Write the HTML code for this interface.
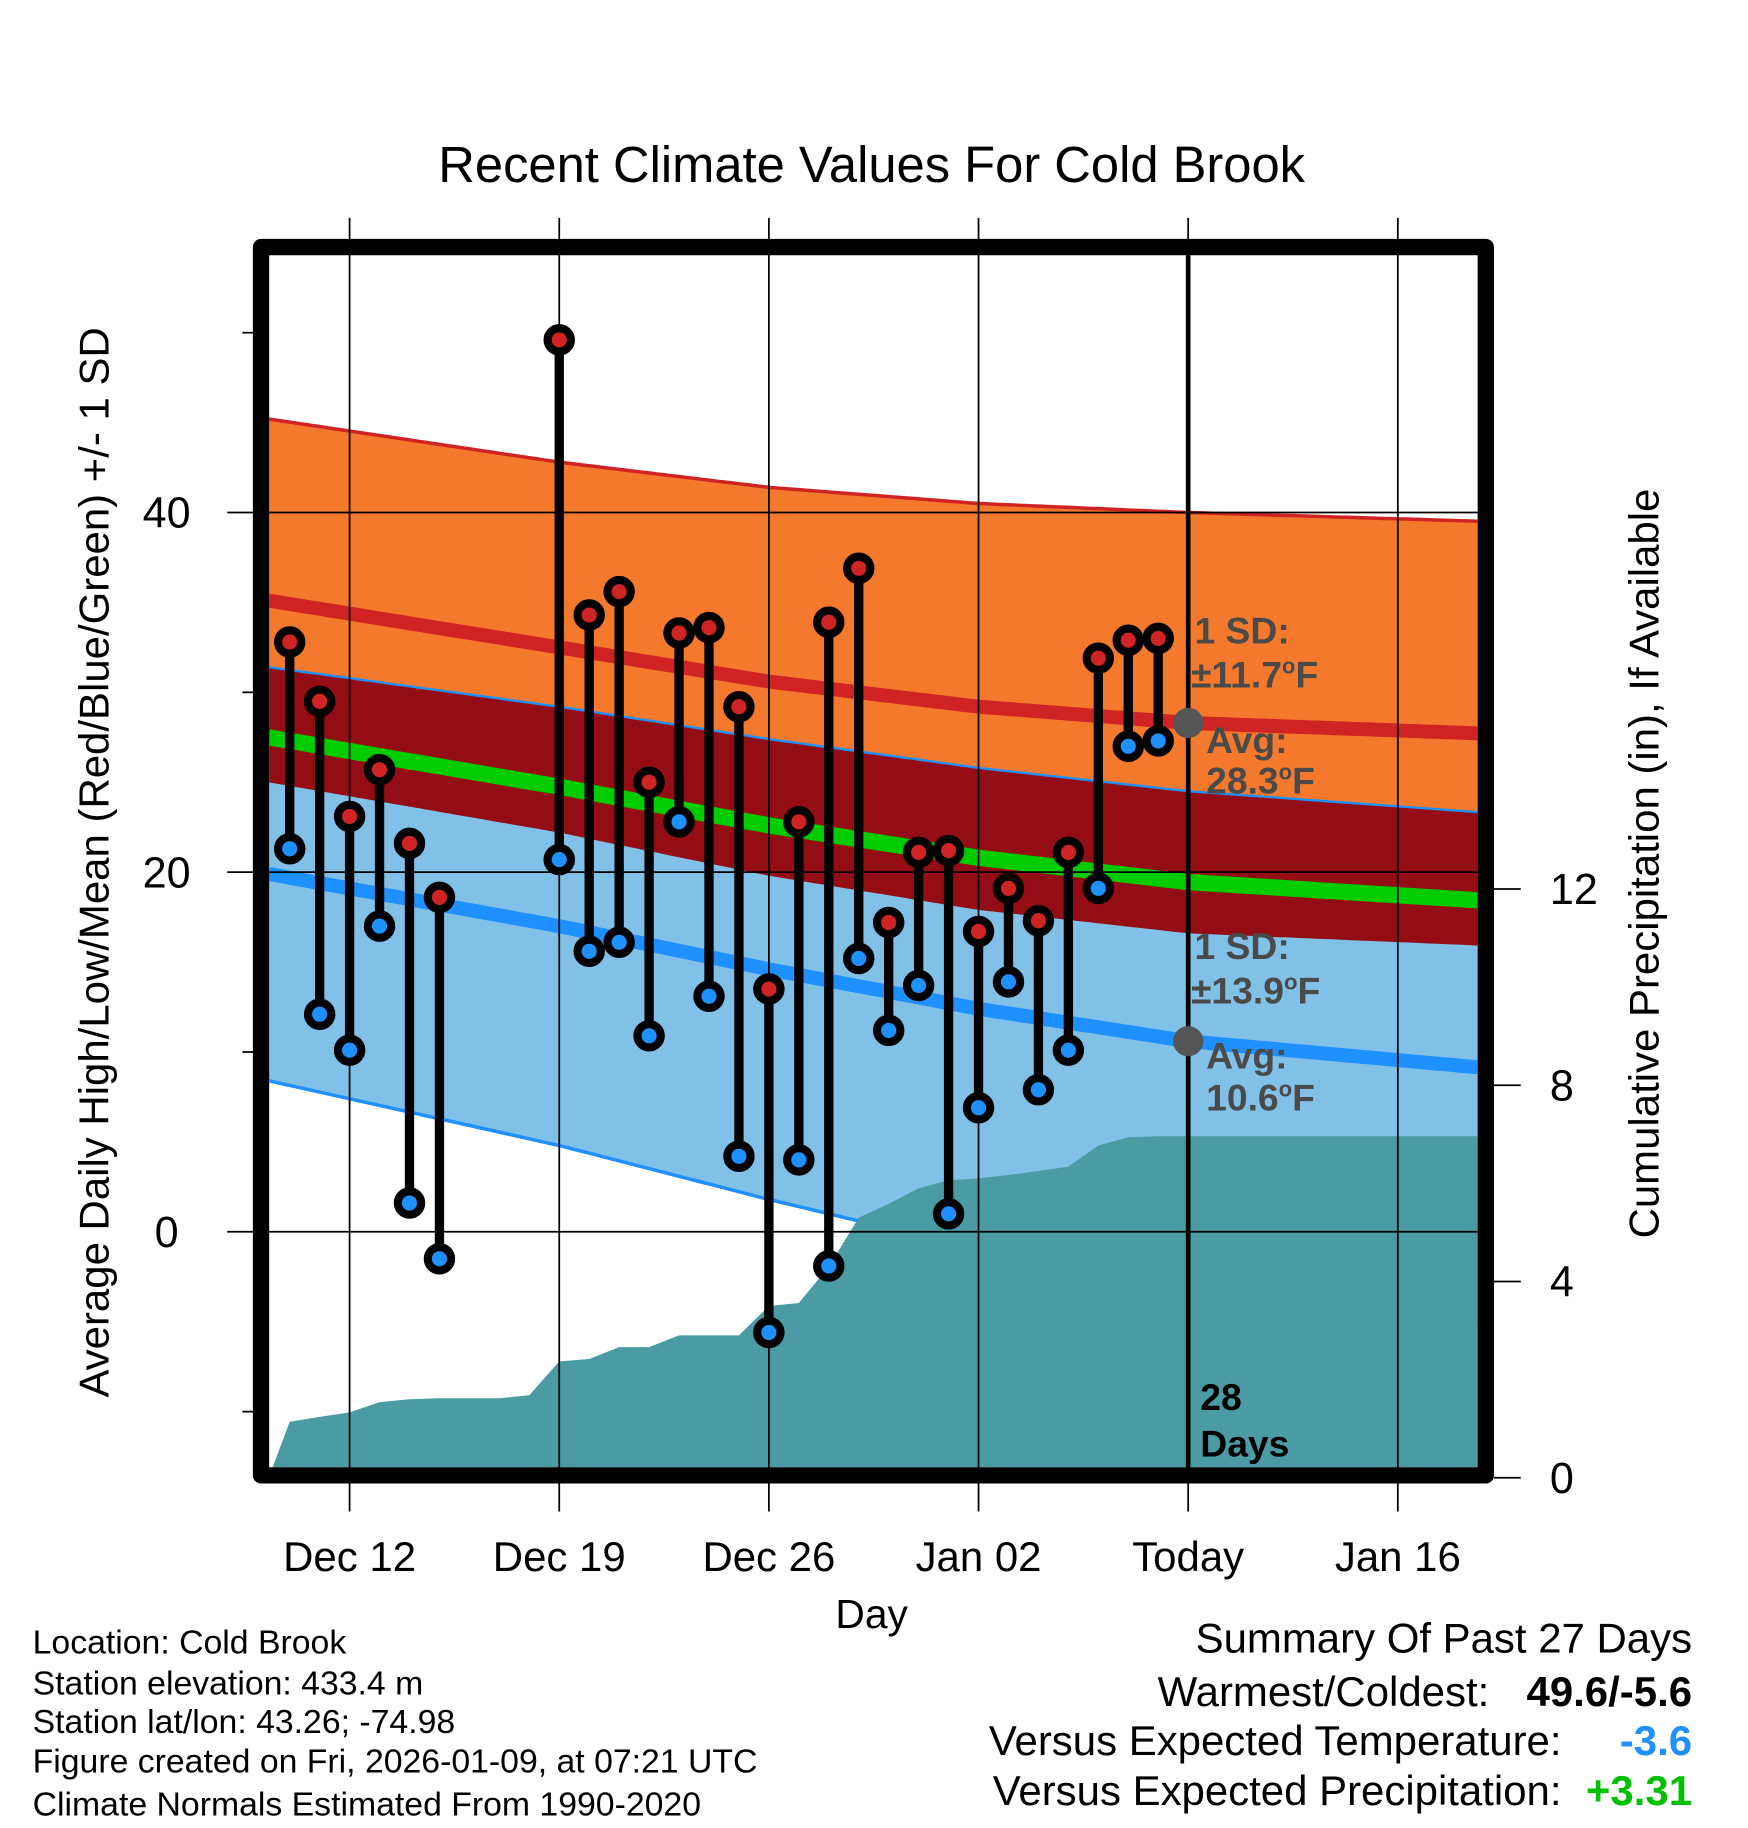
<!DOCTYPE html>
<html><head><meta charset="utf-8"><style>
html,body{margin:0;padding:0;background:#fff}
svg{display:block}
text{font-family:"Liberation Sans",Arial,sans-serif}
</style></head><body>
<svg id="chart" width="1748" height="1828" viewBox="0 0 1500 1568.6" preserveAspectRatio="none" xmlns="http://www.w3.org/2000/svg">
<defs><clipPath id="plotclip"><rect x="231" y="219" width="1037" height="1040"/></clipPath></defs>
<text x="748" y="156" font-size="43.5" text-anchor="middle">Recent Climate Values For Cold Brook</text>
<g id="fills" clip-path="url(#plotclip)"></g>
<g id="grid"></g>
<g id="marks"></g>
<rect x="224" y="212" width="1051" height="1054" fill="none" stroke="#000" stroke-width="14" stroke-linejoin="round"/>
<g id="axes"></g>
<g font-weight="bold" font-size="32" fill="#4a4a4a">
<text x="1025" y="552">1 SD:</text>
<text x="1022" y="590">±11.7<tspan font-size="19" dy="-12">o</tspan><tspan dy="12">F</tspan></text>
<text x="1035" y="646">Avg:</text>
<text x="1035" y="681">28.3<tspan font-size="19" dy="-12">o</tspan><tspan dy="12">F</tspan></text>
<text x="1025" y="823">1 SD:</text>
<text x="1022" y="861">±13.9<tspan font-size="19" dy="-12">o</tspan><tspan dy="12">F</tspan></text>
<text x="1035" y="917">Avg:</text>
<text x="1035" y="953">10.6<tspan font-size="19" dy="-12">o</tspan><tspan dy="12">F</tspan></text>
<text x="1030" y="1210" fill="#000">28</text>
<text x="1030" y="1250" fill="#000">Days</text>
</g>
<text transform="translate(93,740) rotate(-90)" font-size="36" text-anchor="middle">Average Daily High/Low/Mean (Red/Blue/Green) +/- 1 SD</text>
<text transform="translate(1423,741) rotate(-90)" font-size="36" text-anchor="middle">Cumulative Precipitation (in), If Available</text>
<text x="748" y="1397" font-size="35" text-anchor="middle">Day</text>
<g font-size="29">
<text x="28" y="1419">Location: Cold Brook</text>
<text x="28" y="1454">Station elevation: 433.4 m</text>
<text x="28" y="1487">Station lat/lon: 43.26; -74.98</text>
<text x="28" y="1521">Figure created on Fri, 2026-01-09, at 07:21 UTC</text>
<text x="28" y="1558">Climate Normals Estimated From 1990-2020</text>
</g>
<g font-size="36">
<text x="1452" y="1418" text-anchor="end">Summary Of Past 27 Days</text>
<text x="1278" y="1464" text-anchor="end">Warmest/Coldest:</text>
<text x="1452" y="1464" text-anchor="end" font-weight="bold">49.6/-5.6</text>
<text x="1340" y="1506" text-anchor="end">Versus Expected Temperature:</text>
<text x="1452" y="1506" text-anchor="end" font-weight="bold" fill="#1e90ff">-3.6</text>
<text x="1340" y="1549" text-anchor="end">Versus Expected Precipitation:</text>
<text x="1452" y="1549" text-anchor="end" font-weight="bold" fill="#00c000">+3.31</text>
</g>
</svg>
<script>
// day offsets relative to Dec 12
const days = [-2,-1,0,1,2,3,7,8,9,10,11,12,13,14,15,16,17,18,19,20,21,22,23,24,25,26,27];
const highs = [32.8,29.5,23.1,25.7,21.6,18.6,49.6,34.3,35.6,25.0,33.3,33.6,29.2,13.5,22.8,33.9,36.9,17.2,21.1,21.2,16.7,19.1,17.3,21.1,31.9,32.9,33.0];
const lows = [21.3,12.1,10.1,17.0,1.6,-1.5,20.7,15.6,16.1,10.9,22.8,13.1,4.2,-5.6,4.0,-1.9,15.2,11.2,13.7,1.0,6.9,13.9,7.9,10.1,19.1,27.0,27.3];
const precipDays = [-2,-1,0,1,2,3,4,5,6,7,8,9,10,11,12,13,14,15,16,17,18,19,20,21,22,23,24,25,26,27];
const precip = [1.14,1.24,1.33,1.54,1.60,1.62,1.62,1.62,1.68,2.37,2.42,2.66,2.66,2.90,2.90,2.90,3.50,3.56,4.30,5.30,5.58,5.90,6.06,6.10,6.17,6.25,6.34,6.77,6.94,6.96];
const normDays = [-2.7,7,14,21,28,38];
const highMean = [35.1,32.5,30.6,29.2,28.3,27.7];
const highSD = [10.1,10.3,10.8,11.3,11.7,11.8];
const lowMean = [19.9,17.0,14.6,12.4,10.6,9.1];
const lowSD = [11.5,12.2,12.8,13.4,13.9,14.2];
const xTickDays = [0,7,14,21,28,35];
const xTickLabels = ["Dec 12","Dec 19","Dec 26","Jan 02","Today","Jan 16"];
const yTicks = [0,20,40];
const yMinor = [-10,10,30,50];
const pTicks = [0,4,8,12];
const todayDay = 28;

const NS="http://www.w3.org/2000/svg";
const X = d => 300 + d*25.7;
const YT = t => 1057 - 15.43*t;
const YP = p => 1268 - 42.1*p;
const X0 = -2.7, X1 = 38;
function mk(tag, attrs, parent){const e=document.createElementNS(NS,tag);for(const k in attrs)e.setAttribute(k,attrs[k]);parent.appendChild(e);return e;}
function interp(arr,d){
  if(d<=normDays[0])return arr[0];
  for(let i=0;i<normDays.length-1;i++){
    if(d<=normDays[i+1]){const t=(d-normDays[i])/(normDays[i+1]-normDays[i]);return arr[i]+(arr[i+1]-arr[i])*t;}
  }
  return arr[arr.length-1];
}
const samples=[];for(let d=X0;d<=X1+0.001;d+=0.25)samples.push(d);
const f={
  hu:d=>interp(highMean,d)+interp(highSD,d),
  hl:d=>interp(highMean,d)-interp(highSD,d),
  hm:d=>interp(highMean,d),
  lu:d=>interp(lowMean,d)+interp(lowSD,d),
  ll:d=>interp(lowMean,d)-interp(lowSD,d),
  lm:d=>interp(lowMean,d),
  am:d=>(interp(highMean,d)+interp(lowMean,d))/2
};
const line=fn=>samples.map(d=>X(d).toFixed(1)+","+YT(fn(d)).toFixed(1)).join(" ");
const band=(a,b)=>line(a)+" "+samples.slice().reverse().map(d=>X(d).toFixed(1)+","+YT(b(d)).toFixed(1)).join(" ");
const fills=document.getElementById('fills');
let e;
e=mk('polygon',{points:band(f.hu,f.hl),fill:'#f5792c'},fills);


e=mk('polygon',{points:band(f.lu,f.ll),fill:'#82c1e7'},fills);


e=mk('polygon',{points:band(f.lu,f.hl),fill:'#940d14'},fills);


e=mk('polyline',{points:line(f.hu),fill:'none',stroke:'#d02424','stroke-width':3},fills);


e=mk('polyline',{points:line(f.lu),fill:'none',stroke:'#1e90ff','stroke-width':2},fills);


e=mk('polyline',{points:line(f.ll),fill:'none',stroke:'#1e90ff','stroke-width':3},fills);


e=mk('polyline',{points:line(f.hm),fill:'none',stroke:'#d02424','stroke-width':12},fills);


e=mk('polyline',{points:line(f.am),fill:'none',stroke:'#00cc00','stroke-width':14},fills);


e=mk('polyline',{points:line(f.lm),fill:'none',stroke:'#1e90ff','stroke-width':12},fills);


// precipitation
let pts=[X(X0)+","+YP(0)];
precipDays.forEach((d,i)=>pts.push(X(d)+","+YP(precip[i])));
pts.push(X(X1)+","+YP(precip[precip.length-1]));
pts.push(X(X1)+","+YP(-1));pts.push(X(X0)+","+YP(-1));
e=mk('polygon',{points:pts.join(" "),fill:'#4a9ba3'},fills);



// grid
const grid=document.getElementById('grid');
xTickDays.forEach(d=>{
  e=mk('line',{x1:X(d),x2:X(d),y1:187,y2:1297,stroke:'#000','stroke-width':1.5},grid);
  
  
});
yTicks.forEach(t=>{
  e=mk('line',{x1:195,x2:1268,y1:YT(t),y2:YT(t),stroke:'#000','stroke-width':1.5},grid);
  
  
});
yMinor.forEach(t=>{
  e=mk('line',{x1:208,x2:220,y1:YT(t),y2:YT(t),stroke:'#000','stroke-width':1.5},grid);
  
  
});
pTicks.forEach(p=>{
  e=mk('line',{x1:1282,x2:1305,y1:YP(p),y2:YP(p),stroke:'#000','stroke-width':1.5},grid);
  
  
});

// marks
const marks=document.getElementById('marks');
e=mk('line',{x1:X(todayDay),x2:X(todayDay),y1:219,y2:1259,stroke:'#000','stroke-width':4},marks);


e=mk('circle',{cx:X(todayDay),cy:YT(f.hm(todayDay)),r:13,fill:'#555'},marks);


e=mk('circle',{cx:X(todayDay),cy:YT(f.lm(todayDay)),r:13,fill:'#555'},marks);


days.forEach((d,i)=>{
  e=mk('line',{x1:X(d),x2:X(d),y1:YT(highs[i]),y2:YT(lows[i]),stroke:'#000','stroke-width':8},marks);
  
  
});
days.forEach((d,i)=>{
  e=mk('circle',{cx:X(d),cy:YT(highs[i]),r:10,fill:'#d02424',stroke:'#000','stroke-width':7},marks);
  
  
  e=mk('circle',{cx:X(d),cy:YT(lows[i]),r:10,fill:'#1e90ff',stroke:'#000','stroke-width':7},marks);
  
  
});

// axes labels
const axes=document.getElementById('axes');
yTicks.forEach(t=>{
  e=mk('text',{x:143,y:YT(t)+13,'font-size':37,'text-anchor':'middle'},axes);
  e.textContent=t;
  
  
});
pTicks.forEach(p=>{
  e=mk('text',{x:1330,y:YP(p)+13,'font-size':37},axes);
  e.textContent=p;
  
  
});
xTickDays.forEach((d,i)=>{
  e=mk('text',{x:X(d),y:1348,'font-size':36,'text-anchor':'middle'},axes);
  e.textContent=xTickLabels[i];
  
  
});
</script>
</body></html>
